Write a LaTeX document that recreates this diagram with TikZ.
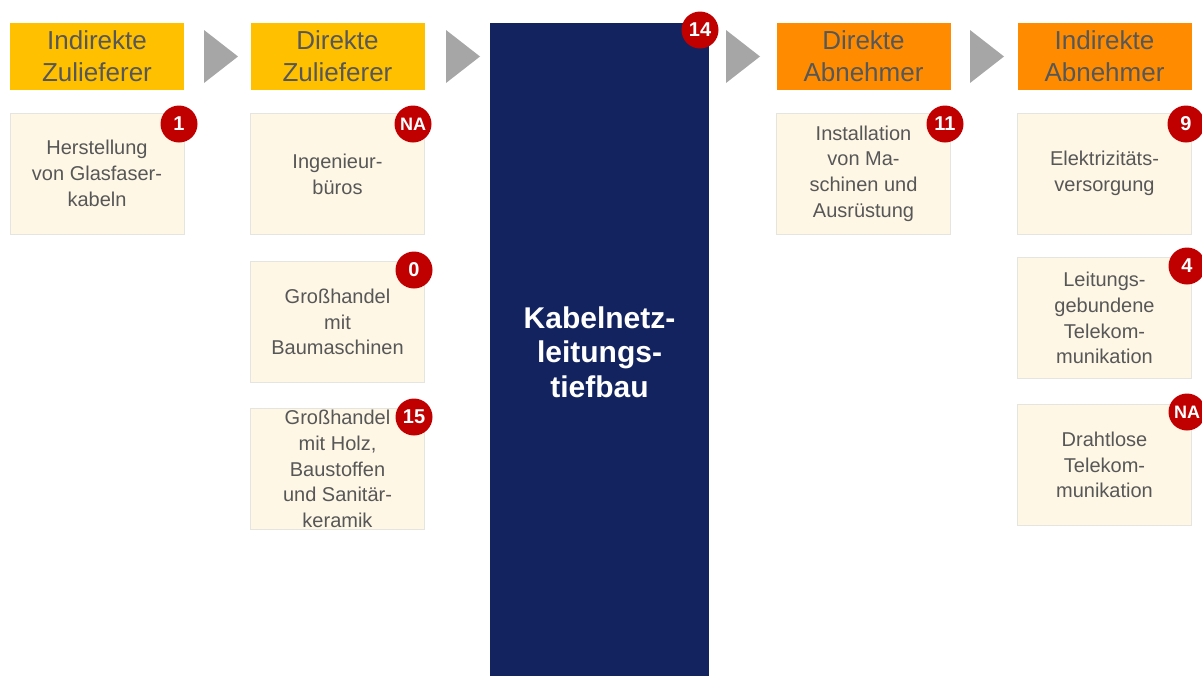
\documentclass[tikz,border=0pt]{standalone}
\usepackage{fontspec}
\setmainfont{Liberation Sans}
\usetikzlibrary{calc}
\definecolor{hdrgold}{HTML}{FFC000}
\definecolor{hdrorange}{HTML}{FF8C00}
\definecolor{navy}{HTML}{13235F}
\definecolor{boxfill}{HTML}{FEF7E6}
\definecolor{boxline}{HTML}{E6E4DE}
\definecolor{txtgray}{HTML}{575757}
\definecolor{badgered}{HTML}{C00000}
\definecolor{arrgray}{HTML}{A6A6A6}
\tikzset{
  hdr/.style={minimum width=174pt, minimum height=67pt, inner sep=0pt, align=center,
    text=txtgray, font=\fontsize{26}{32}\selectfont},
  infobox/.style={fill=boxfill, draw=boxline, line width=0.8pt, minimum width=174pt,
    minimum height=121pt, inner sep=0pt, align=center, text=txtgray,
    font=\fontsize{20}{25.7}\selectfont},
  badge/.style={circle, fill=badgered, minimum size=37pt, inner sep=0pt, text=white,
    font=\fontsize{20}{20}\selectfont\bfseries},
  badgesm/.style={badge, font=\fontsize{18}{18}\selectfont\bfseries},
  arrowtri/.style={fill=arrgray}
}
\begin{document}
\begin{tikzpicture}[x=1pt, y=-1pt]
\useasboundingbox (0,0) rectangle (1202,675);
% headers
\node[hdr, fill=hdrgold] (h1) at (97,56.5) {Indirekte\\Zulieferer};
\node[hdr, fill=hdrgold] (h2) at (337.5,56.5) {Direkte\\Zulieferer};
\node[hdr, fill=hdrorange] (h4) at (863.5,56.5) {Direkte\\Abnehmer};
\node[hdr, fill=hdrorange] (h5) at (1104.5,56.5) {Indirekte\\Abnehmer};
% central block
\node[fill=navy, minimum width=219pt, minimum height=653pt, inner sep=0pt] (core) at (599.5,349.5) {};
\node[text=white, align=center, font=\fontsize{30}{34.5}\selectfont\bfseries] (coretxt) at (599.5,352) {Kabelnetz-\\leitungs-\\tiefbau};
\node[badge] (b14) at (700,30) {14};
% arrows
\coordinate (a1) at (204,30);
\coordinate (a2) at (446,30);
\coordinate (a3) at (726,30);
\coordinate (a4) at (970,30);
\foreach \a in {a1,a2,a3,a4}{
  \fill[arrowtri] (\a) -- ++(34,26.5) -- ++(-34,26.5) -- cycle;
}
% boxes
\node[infobox] (c1) at (97,173.5) {Herstellung\\von Glasfaser-\\kabeln};
\node[badge] (bc1) at (179,124) {1};
\node[infobox] (c2a) at (337.5,174) {Ingenieur-\\büros};
\node[badgesm] (bc2a) at (413,124) {NA};
\node[infobox] (c2b) at (337.5,322) {Großhandel\\mit\\Baumaschinen};
\node[badge] (bc2b) at (414,270) {0};
\node[infobox] (c2c) at (337.5,469) {Großhandel\\mit Holz,\\Baustoffen\\und Sanitär-\\keramik};
\node[badge] (bc2c) at (414,417) {15};
\node[infobox] (c4) at (863.5,173.5) {Installation\\von Ma-\\schinen und\\Ausrüstung};
\node[badge] (bc4) at (945,124) {11};
\node[infobox] (c5a) at (1104.5,173.5) {Elektrizitäts-\\versorgung};
\node[badge] (bc5a) at (1186,124) {9};
\node[infobox] (c5b) at (1104.5,318) {Leitungs-\\gebundene\\Telekom-\\munikation};
\node[badge] (bc5b) at (1187,266) {4};
\node[infobox] (c5c) at (1104.5,465) {Drahtlose\\Telekom-\\munikation};
\node[badgesm] (bc5c) at (1187,412) {NA};
\end{tikzpicture}
\end{document}
